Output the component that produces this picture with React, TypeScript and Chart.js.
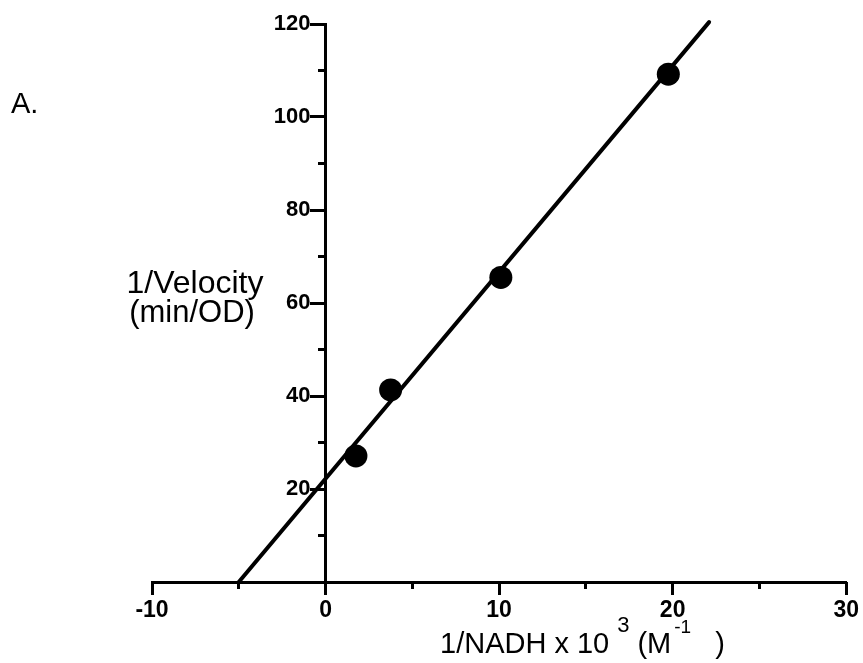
import React, { useEffect, useRef } from "react";
import { Chart, registerables } from "chart.js";

Chart.register(...registerables);

// Data
const pointX = [1.75, 3.75, 10.1, 19.75];
const pointY = [27.1, 41.3, 65.5, 109.2];
const fitX = [-5.0, 22.1];
const fitY = [0, 120.4];

const xMin = -10;
const xMax = 30;
const yMin = 0;
const yMax = 120;
const xMajorStep = 10;
const xMinorStep = 5;
const yMajorStep = 20;
const yMinorStep = 10;

const panelLabel = "A.";
const yTitleLines = ["1/Velocity", "(min/OD)"];
const xTitleMain = "1/NADH x 10";
const xTitleExp = "3";
const xTitleUnit = "(M";
const xTitleUnitExp = "-1";
const xTitleClose = ")";

const FONT = "'Liberation Sans', Arial, Helvetica, sans-serif";
const Y_LABEL_GAP = 15;

// Moves the y tick labels of the crossing axis to the left of its tick marks
const yLabelShift = {
  id: "yLabelShift",
  beforeDraw(chart: any) {
    const s = chart.scales.y;
    if (!s) return;
    const items = s.getLabelItems();
    if (items && !items._shifted) {
      items.forEach((it: any) => {
        if (it.options && it.options.translation) it.options.translation[0] -= Y_LABEL_GAP;
      });
      items._shifted = true;
    }
  },
};

const textPlugin = {
  id: "textPlugin",
  afterDraw(chart: any) {
    const ctx = chart.ctx;
    ctx.save();
    ctx.fillStyle = "#000";
    ctx.textBaseline = "alphabetic";

    // Panel label
    ctx.font = `29px ${FONT}`;
    ctx.textAlign = "left";
    ctx.fillText(panelLabel, 11, 113);

    // Y title (horizontal, two lines)
    ctx.textAlign = "center";
    ctx.font = `32px ${FONT}`;
    ctx.fillText(yTitleLines[0], 195, 293);
    ctx.font = `31px ${FONT}`;
    ctx.fillText(yTitleLines[1], 192, 322);

    // X title with superscripts
    ctx.textAlign = "left";
    ctx.font = `29px ${FONT}`;
    let x = 440;
    ctx.fillText(xTitleMain, x, 653);
    x += ctx.measureText(xTitleMain).width + 8;
    ctx.font = `22px ${FONT}`;
    ctx.fillText(xTitleExp, x, 632);
    x += ctx.measureText(xTitleExp).width + 8;
    ctx.font = `29px ${FONT}`;
    ctx.fillText(xTitleUnit, x, 653);
    x += ctx.measureText(xTitleUnit).width + 3;
    ctx.font = `19px ${FONT}`;
    ctx.fillText(xTitleUnitExp, x, 633);
    x += ctx.measureText(xTitleUnitExp).width + 24;
    ctx.font = `29px ${FONT}`;
    ctx.fillText(xTitleClose, x, 653);

    ctx.restore();
  },
};

export default function App() {
  const ref = useRef<HTMLCanvasElement | null>(null);

  useEffect(() => {
    if (!ref.current) return;
    const chart = new Chart(ref.current, {
      type: "scatter",
      data: {
        datasets: [
          {
            type: "line",
            data: fitX.map((v, i) => ({ x: v, y: fitY[i] })),
            borderColor: "#000",
            borderWidth: 4,
            pointRadius: 0,
            borderCapStyle: "round",
            clip: false as any,
            fill: false,
          } as any,
          {
            type: "scatter",
            data: pointX.map((v, i) => ({ x: v, y: pointY[i] })),
            backgroundColor: "#000",
            borderColor: "#000",
            borderWidth: 0,
            pointRadius: 11.5,
            pointHoverRadius: 11.5,
            clip: false as any,
          } as any,
        ],
      },
      options: {
        responsive: false,
        animation: false,
        devicePixelRatio: 1,
        events: [],
        layout: { padding: { left: 152, right: 14, top: 24, bottom: 81 } },
        plugins: {
          legend: { display: false },
          tooltip: { enabled: false },
        },
        scales: {
          x: {
            type: "linear",
            min: xMin,
            max: xMax,
            position: { y: 0 } as any,
            ticks: {
              stepSize: xMajorStep,
              color: "#000",
              padding: 4,
              maxRotation: 0,
              font: { family: FONT, size: 23, weight: "bold" },
            },
            grid: {
              drawOnChartArea: false,
              tickLength: 11,
              tickWidth: 3,
              tickColor: "#000",
            },
            border: { display: true, color: "#000", width: 3 },
          },
          x2: {
            type: "linear",
            axis: "x",
            min: xMin,
            max: xMax,
            position: { y: 0 } as any,
            ticks: { stepSize: xMinorStep, callback: () => "", padding: 0 },
            grid: {
              drawOnChartArea: false,
              tickLength: 7,
              tickWidth: 3,
              tickColor: "#000",
            },
            border: { display: false },
          } as any,
          y: {
            type: "linear",
            min: yMin,
            max: yMax,
            position: { x: 0 } as any,
            ticks: {
              stepSize: yMajorStep,
              color: "#000",
              padding: 1,
              font: { family: FONT, size: 22, weight: "bold" },
              callback: (v: any) => (Number(v) === 0 ? "" : String(v)),
            },
            grid: {
              drawOnChartArea: false,
              tickLength: 14,
              tickWidth: 3,
              tickColor: "#000",
            },
            border: { display: true, color: "#000", width: 3 },
          },
          y2: {
            type: "linear",
            axis: "y",
            min: yMin,
            max: yMax,
            position: { x: 0 } as any,
            ticks: { stepSize: yMinorStep, callback: () => "", padding: 0 },
            grid: {
              drawOnChartArea: false,
              tickLength: 8,
              tickWidth: 3,
              tickColor: "#000",
            },
            border: { display: false },
          } as any,
        },
      } as any,
      plugins: [yLabelShift, textPlugin],
    });
    return () => chart.destroy();
  }, []);

  return (
    <div style={{ position: "fixed", left: 0, top: 0, width: 863, height: 663, background: "#fff" }}>
      <canvas ref={ref} width={863} height={663} style={{ display: "block" }} />
    </div>
  );
}
